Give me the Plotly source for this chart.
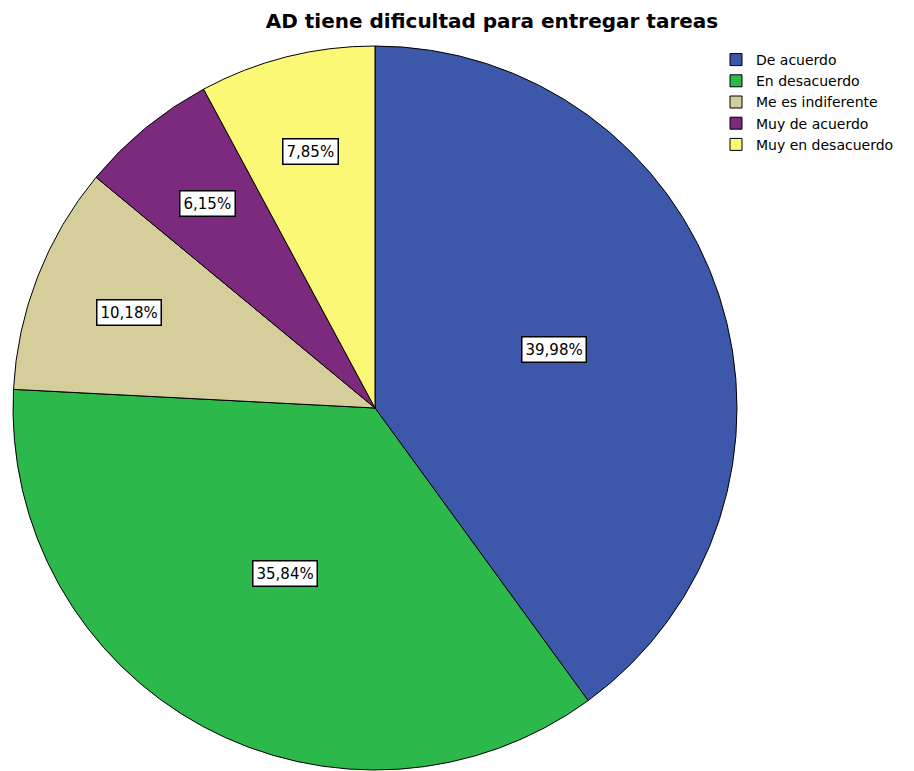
import math
import plotly.graph_objects as go

categorias = ["De acuerdo", "En desacuerdo", "Me es indiferente", "Muy de acuerdo", "Muy en desacuerdo"]
porcentajes = [39.98, 35.84, 10.18, 6.15, 7.85]
colores = ["#3D57AB", "#2DB84B", "#D5CE9B", "#7C2A7E", "#FAF874"]
etiquetas = ["39,98%", "35,84%", "10,18%", "6,15%", "7,85%"]

W, H = 914, 771
# la página tiene 8 px de margen en el body, se compensa aquí
cx, cy, R = 367, 400, 362  # centro y radio del pastel en píxeles

fig = go.Figure(go.Pie(
    labels=categorias,
    values=porcentajes,
    marker=dict(colors=colores, line=dict(color="black", width=1)),
    sort=False,
    direction="clockwise",
    rotation=0,
    textinfo="none",
    hoverinfo="label+percent",
    domain=dict(x=[(cx - R) / W, (cx + R) / W], y=[1 - (cy + R) / H, 1 - (cy - R) / H]),
))

# etiquetas con recuadro blanco, como en SPSS
total = sum(porcentajes)
acum = 0
for v, txt in zip(porcentajes, etiquetas):
    medio = (acum + v / 2) / total * 2 * math.pi
    acum += v
    r = 0.52 if v / total > 0.2 else 0.73
    px = cx + r * R * math.sin(medio)
    py = cy - r * R * math.cos(medio)
    fig.add_annotation(
        x=px / W, y=1 - py / H, xref="paper", yref="paper",
        xanchor="center", yanchor="middle",
        text=txt, showarrow=False,
        font=dict(family="DejaVu Sans", size=15, color="black"),
        bgcolor="white", bordercolor="black", borderwidth=1.5, borderpad=3,
    )

fig.update_layout(
    width=W, height=H,
    margin=dict(l=0, r=0, t=0, b=0),
    paper_bgcolor="white",
    title=dict(text="<b>AD tiene dificultad para entregar tareas</b>",
               x=484 / W, xanchor="center", y=1 - 13 / H, yanchor="middle",
               font=dict(family="DejaVu Sans", size=20, color="black")),
    legend=dict(x=708 / W, y=1 - 36 / H, xanchor="left", yanchor="top",
                font=dict(family="DejaVu Sans", size=14, color="black"),
                tracegroupgap=0, itemwidth=30),
)

fig.write_html("out.html")
